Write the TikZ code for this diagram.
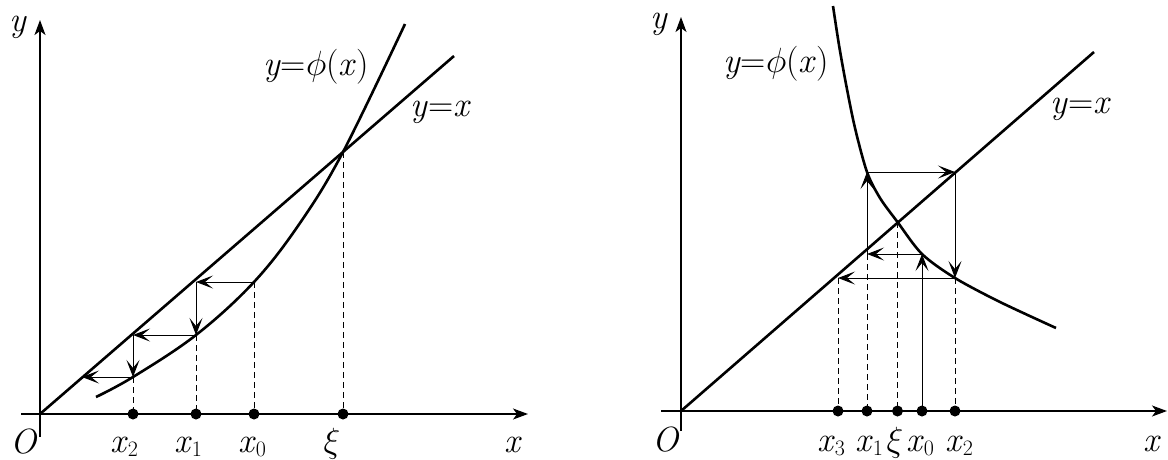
\RequirePackage{fix-cm}
\documentclass[tikz,border=0pt]{standalone}
\usetikzlibrary{arrows.meta}
\newcommand\mysub[1]{\raisebox{-4pt}{\fontsize{22}{22}\selectfont #1}}
\newcommand\vx{\textit{x}}
\begin{document}
\begin{tikzpicture}[x=1pt,y=-1pt,
  axisline/.style={line width=1.3pt,-{Stealth[length=15pt,width=11pt,inset=4pt]}},
  graphline/.style={line width=2.6pt},
  webline/.style={line width=1pt,-{Stealth[length=17pt,width=13pt,inset=8pt]}},
  projline/.style={line width=1pt,dash pattern=on 6pt off 4pt},
  dotnode/.style={circle,fill=black,inner sep=0pt,minimum size=11pt},
  lbl/.style={inner sep=0pt,anchor=base,font=\fontsize{35}{40}\selectfont}]
\useasboundingbox (0,0) rectangle (1168,459);
% ================= left panel =================
\coordinate (LxS) at (21,414);
\coordinate (LxE) at (528,414);
\coordinate (LyS) at (40,437);
\coordinate (LyE) at (40,20);
\coordinate (LO) at (40,414);
\coordinate (LLe) at (454,56);
\draw[axisline] (LxS) -- (LxE);
\draw[axisline] (LyS) -- (LyE);
\draw[graphline] (LO) -- (LLe);
\draw[graphline] plot[smooth,tension=0.6] coordinates {(96,397) (133,377) (196,335) (254,282) (300,223) (343,152) (405,24)};
% cobweb points
\coordinate (La) at (254,282);
\coordinate (Lb) at (196,282);
\coordinate (Lc) at (196,335);
\coordinate (Ld) at (133,335);
\coordinate (Le) at (133,377);
\coordinate (Lf) at (82,377);
\coordinate (Lxi) at (343,152);
\draw[webline] (La) -- (Lb);
\draw[webline] (Lb) -- (Lc);
\draw[webline] (Lc) -- (Ld);
\draw[webline] (Ld) -- (Le);
\draw[webline] (Le) -- (Lf);
% dots
\node[dotnode] (Ld2) at (133,414) {};
\node[dotnode] (Ld1) at (196,414) {};
\node[dotnode] (Ld0) at (254,414) {};
\node[dotnode] (Ldxi) at (343,414) {};
\draw[projline] (Le) -- (Ld2.center);
\draw[projline] (Lc) -- (Ld1.center);
\draw[projline] (La) -- (Ld0.center);
\draw[projline] (Lxi) -- (Ldxi.center);
% labels
\node[lbl] (LlO) at (24,453) {\textit{O}};
\node[lbl] (Lly) at (18,31) {\textit{y}};
\node[lbl] (Llx) at (513,452) {\vx};
\node[lbl] (Llx2) at (124,452) {\vx\mysub{2}};
\node[lbl] (Llx1) at (188,452) {\vx\mysub{1}};
\node[lbl] (Llx0) at (252,452) {\vx\mysub{0}};
\node[lbl] (Llxi) at (332,452) {$\xi$};
\node[lbl] (Llphi) at (316,75) {\textit{y}=$\phi$(\vx)};
\node[lbl] (Llyx) at (441,116) {\textit{y}=\vx};
% ================= right panel =================
\coordinate (RxS) at (661,411);
\coordinate (RxE) at (1167,411);
\coordinate (RyS) at (681,431);
\coordinate (RyE) at (681,17);
\coordinate (RO) at (681,411);
\coordinate (RLe) at (1094,52);
\draw[axisline] (RxS) -- (RxE);
\draw[axisline] (RyS) -- (RyE);
\draw[graphline] (RO) -- (RLe);
\draw[graphline] plot[smooth,tension=0.5] coordinates {(833,6) (839,45) (846,84) (855,128) (867,172) (880,198) (897.5,222) (922,254) (955,278) (1000,302) (1056,328)};
% cobweb
\node[dotnode] (Rd3) at (838,411) {};
\node[dotnode] (Rd1) at (867,411) {};
\node[dotnode] (Rdxi) at (897.5,411) {};
\node[dotnode] (Rd0) at (922,411) {};
\node[dotnode] (Rd2) at (955,411) {};
\coordinate (Ra) at (922,254);
\coordinate (Rb) at (867,254);
\coordinate (Rc) at (867,172);
\coordinate (Rd) at (955,172);
\coordinate (Re) at (955,278);
\coordinate (Rf) at (838,278);
\coordinate (Rxi) at (897.5,222);
\draw[webline] (Rd0.center) -- (Ra);
\draw[webline] (Ra) -- (Rb);
\draw[webline] (Rb) -- (Rc);
\draw[webline] (Rc) -- (Rd);
\draw[webline] (Rd) -- (Re);
\draw[webline] (Re) -- (Rf);
\draw[projline] (Rf) -- (Rd3.center);
\draw[projline] (Rb) -- (Rd1.center);
\draw[projline] (Rxi) -- (Rdxi.center);
\draw[projline] (Re) -- (Rd2.center);
% labels
\node[lbl] (RlO) at (666,451) {\textit{O}};
\node[lbl] (Rly) at (659,28) {\textit{y}};
\node[lbl] (Rlx) at (1152,451) {\vx};
\node[lbl] (Rlx3) at (831,451) {\vx\mysub{3}};
\node[lbl] (Rlx1) at (869,451) {\vx\mysub{1}};
\node[lbl] (Rlxi) at (895,451) {$\xi$};
\node[lbl] (Rlx0) at (920,451) {\vx\mysub{0}};
\node[lbl] (Rlx2) at (959,451) {\vx\mysub{2}};
\node[lbl] (Rlphi) at (776,72) {\textit{y}=$\phi$(\vx)};
\node[lbl] (Rlyx) at (1081,113) {\textit{y}=\vx};
\end{tikzpicture}
\end{document}
